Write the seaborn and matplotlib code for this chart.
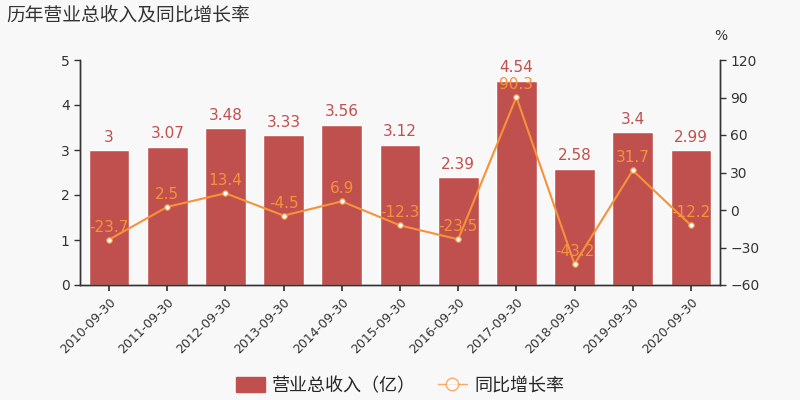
import matplotlib
matplotlib.use("Agg")
import matplotlib.pyplot as plt
import seaborn as sns
import pandas as pd
from matplotlib.lines import Line2D
from matplotlib.patches import Patch

dates = ["2010-09-30", "2011-09-30", "2012-09-30", "2013-09-30", "2014-09-30", "2015-09-30",
         "2016-09-30", "2017-09-30", "2018-09-30", "2019-09-30", "2020-09-30"]
revenue = [3, 3.07, 3.48, 3.33, 3.56, 3.12, 2.39, 4.54, 2.58, 3.4, 2.99]
yoy = [-23.7, 2.5, 13.4, -4.5, 6.9, -12.3, -23.5, 90.3, -43.2, 31.7, -12.2]
rev_labels = ["3", "3.07", "3.48", "3.33", "3.56", "3.12", "2.39", "4.54", "2.58", "3.4", "2.99"]
yoy_labels = ["-23.7", "2.5", "13.4", "-4.5", "6.9", "-12.3", "-23.5", "90.3", "-43.2", "31.7", "-12.2"]

sns.set_theme(style="white")
plt.rcParams['font.family'] = ['Noto Sans CJK SC', 'DejaVu Sans']

BG = "#f8f8f8"
BAR = "#c0504d"
LINE = "#f7923a"

df = pd.DataFrame({"date": dates, "revenue": revenue, "yoy": yoy, "pos": range(len(dates))})

fig = plt.figure(figsize=(8, 4), dpi=100, facecolor=BG)
ax = fig.add_axes([0.1, 0.2875, 0.8, 0.5625])
ax.set_facecolor(BG)
sns.barplot(data=df, x="date", y="revenue", color=BAR, width=0.7, saturation=1, ax=ax)
ax.set_ylim(0, 5)
ax.set_yticks([0, 1, 2, 3, 4, 5])
ax.set_xlabel("")
ax.set_ylabel("")
ax.set_xlim(-0.5, len(dates) - 0.5)
for i, (v, lab) in enumerate(zip(revenue, rev_labels)):
    ax.text(i, v + 0.12, lab, ha="center", va="bottom", color=BAR, fontsize=11, family="DejaVu Sans")

ax2 = ax.twinx()
sns.lineplot(data=df, x="pos", y="yoy", color=LINE, linewidth=1.5, marker="o", markersize=4,
             markerfacecolor="white", markeredgecolor=LINE, markeredgewidth=0.8, ax=ax2)
ax2.set_ylim(-60, 120)
ax2.set_yticks([-60, -30, 0, 30, 60, 90, 120])
ax2.set_ylabel("")
ax2.set_xlabel("")
for i, (v, lab) in enumerate(zip(yoy, yoy_labels)):
    ax2.text(i, v + 4, lab, ha="center", va="bottom", color=LINE, fontsize=11, family="DejaVu Sans")

for a in (ax, ax2):
    a.spines["top"].set_visible(False)
    for s in ("left", "right", "bottom"):
        a.spines[s].set_color("#333333")
        a.spines[s].set_linewidth(1)
    a.tick_params(axis="y", length=4, width=1, color="#333333", labelsize=10, labelcolor="#333333", direction="out")
ax.tick_params(axis="y", left=True)
ax2.tick_params(axis="y", right=True)
ax.tick_params(axis="x", bottom=True, length=4, color="#333333", labelsize=9, labelcolor="#333333")
plt.setp(ax.get_xticklabels(), rotation=45, ha="right", rotation_mode="anchor", family="DejaVu Sans")
for lab in ax.get_yticklabels() + ax2.get_yticklabels():
    lab.set_family("DejaVu Sans")

fig.text(0.893, 0.9, "%", fontsize=10, color="#333333", family="DejaVu Sans")
fig.text(0.008, 0.962, "历年营业总收入及同比增长率", fontsize=13.5, color="#333333", va="center")

handles = [Patch(facecolor=BAR, edgecolor=BAR),
           Line2D([0], [0], color=LINE, alpha=0.75, marker="o", markerfacecolor="white", markersize=9, linewidth=1)]
fig.legend(handles, ["营业总收入（亿）", "同比增长率"], loc="center", bbox_to_anchor=(0.5, 0.035),
           ncol=2, frameon=False, fontsize=13, handlelength=1.6, handleheight=0.9,
           handletextpad=0.4, columnspacing=1.2)

fig.savefig("out.png", dpi=100, facecolor=BG)
